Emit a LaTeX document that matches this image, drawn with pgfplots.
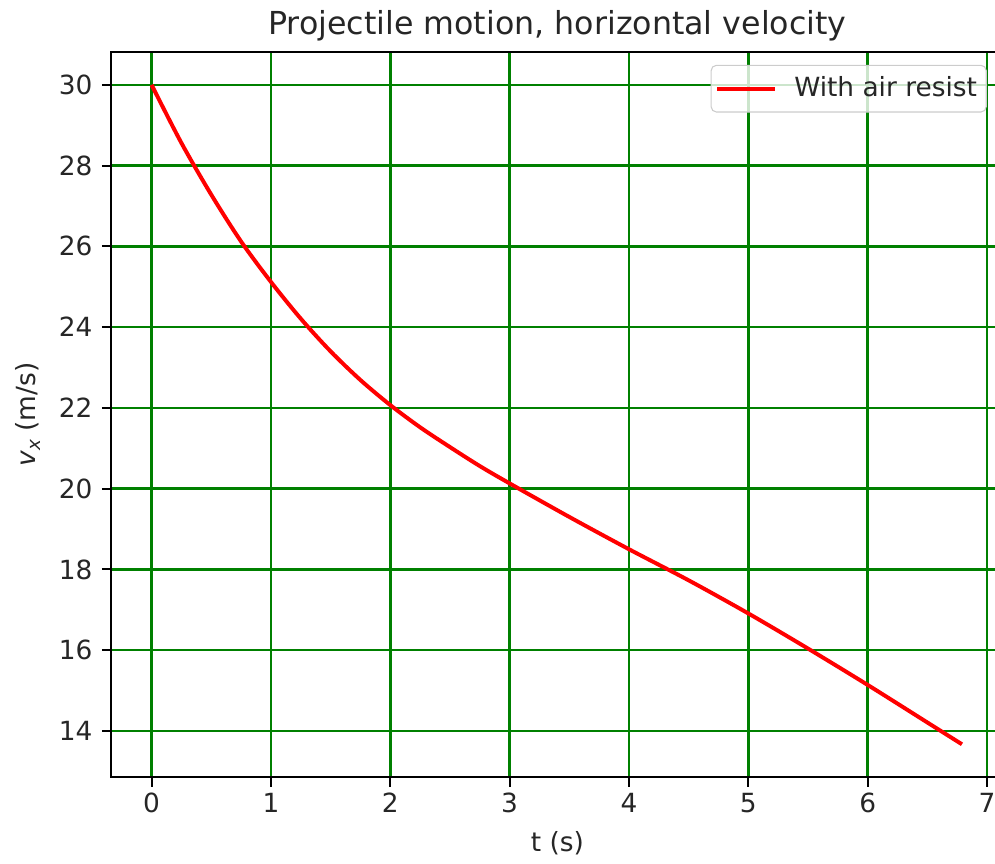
\documentclass[border=0pt]{standalone}
\usepackage{fontspec}
\setmainfont{DejaVu Sans}
\usepackage{pgfplots}
\pgfplotsset{compat=1.18}
\definecolor{gridgreen}{RGB}{0,128,0}
\definecolor{legedge}{RGB}{204,204,204}
\begin{document}
\begin{tikzpicture}
\begin{axis}[
  at={(0,0)}, anchor=south west,
  scale only axis, width=338.3pt, height=275.0pt,
  xmin=-0.34, xmax=7.14, ymin=12.85, ymax=30.82,
  xtick={0,1,...,7}, ytick={14,16,...,30},
  grid=major, grid style={gridgreen, line width=0.95pt},
  axis line style={black, line width=0.8pt},
  tick style={black, line width=0.8pt},
  tick align=outside, major tick length=3.5pt,
  xtick pos=lower, ytick pos=left,
  /pgf/number format/assume math mode=true,
  ticklabel style={font=\fontsize{10}{12}\selectfont, text=black!85},
  xticklabel style={yshift=1pt},
  title={Projectile motion, horizontal velocity},
  title style={font=\fontsize{12}{14}\selectfont, text=black!85, yshift=-5.5pt},
  xlabel={t (s)},
  ylabel={{\itshape v}\raisebox{-0.35ex}{\fontsize{7}{8}\selectfont\itshape x} (m/s)},
  label style={font=\fontsize{10}{12}\selectfont, text=black!85},
  legend style={at={(rel axis cs:0.981,0.982)}, anchor=north east,
    draw=legedge, rounded corners=2pt, fill=white, fill opacity=0.8,
    draw opacity=1, text opacity=1, inner xsep=1.5pt, inner ysep=2.3pt,
    column sep=4.5pt,
    font=\fontsize{10}{12}\selectfont, text=black!85},
  legend image code/.code={\draw[#1] (0pt,0pt) -- (22pt,0pt);},
]
\addplot[red, line width=1.5pt, smooth] coordinates {
(0,30) (0.25,28.56) (0.5,27.28) (0.75,26.12) (1.0,25.12) (1.25,24.21)
(1.5,23.40) (1.75,22.69) (2.0,22.07) (2.25,21.52) (2.5,21.03) (2.75,20.56)
(3.0,20.13) (3.5,19.30) (4.0,18.50) (4.5,17.73) (5.0,16.91) (5.5,16.04)
(6.0,15.14) (6.5,14.21) (6.79,13.67)
};
\addlegendentry{With air resist}
\end{axis}
\pgfresetboundingbox
\useasboundingbox (-42.07pt,-32.48pt) rectangle (335.0pt,294.6pt);
\end{tikzpicture}
\end{document}
